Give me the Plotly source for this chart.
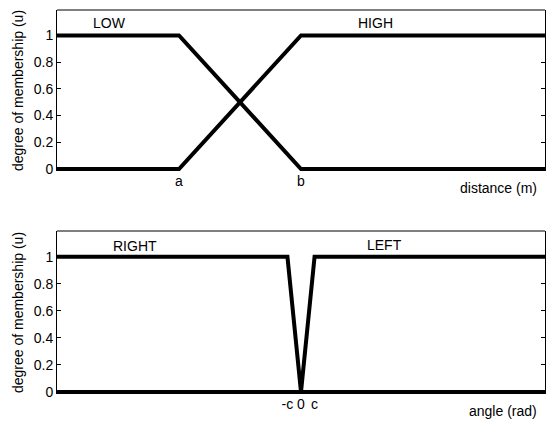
import math

import plotly.graph_objects as go
from plotly.subplots import make_subplots

# distance memberships (top panel)
dist_a = 1.0
dist_b = 2.0
dist_max = 4.0
dist_x = [0.0, dist_a, dist_b, dist_max]
low_u = [1, 1, 0, 0]
high_u = [0, 0, 1, 1]
dist_ticks = [dist_a, dist_b]
dist_ticktext = ["a", "b"]

# angle memberships (bottom panel)
ang_c = math.pi / 18
ang_max = math.pi
right_x = [-ang_max, -ang_c, 0.0, ang_max]
right_u = [1, 1, 0, 0]
left_x = [-ang_max, 0.0, ang_c, ang_max]
left_u = [0, 0, 1, 1]
ang_ticks = [-ang_c, 0.0, ang_c]
ang_ticktext = ["-c", "0", "c"]

u_ticks = [0, 0.2, 0.4, 0.6, 0.8, 1]
u_ticktext = ["0", "0.2", "0.4", "0.6", "0.8", "1"]

FONT = "Liberation Sans, Arial, sans-serif"
FS = 14
W, H = 546, 421

fig = make_subplots(rows=2, cols=1)

line_style = {"color": "black", "width": 4}
fig.add_trace(go.Scatter(x=dist_x, y=low_u, mode="lines", line=line_style), row=1, col=1)
fig.add_trace(go.Scatter(x=dist_x, y=high_u, mode="lines", line=line_style), row=1, col=1)
fig.add_trace(go.Scatter(x=right_x, y=right_u, mode="lines", line=line_style), row=2, col=1)
fig.add_trace(go.Scatter(x=left_x, y=left_u, mode="lines", line=line_style), row=2, col=1)

tick_font = {"family": FONT, "size": FS, "color": "black"}

x_dom = [57 / W, 545 / W]
x_common = dict(domain=x_dom, showgrid=False, zeroline=False, showline=False,
                ticks="", tickfont=tick_font, automargin=False)
fig.update_xaxes(range=[0, dist_max], tickvals=dist_ticks, ticktext=dist_ticktext,
                 row=1, col=1, **x_common)
fig.update_xaxes(range=[-ang_max, ang_max], tickvals=ang_ticks, ticktext=ang_ticktext,
                 row=2, col=1, **x_common)

y_common = dict(
    range=[-0.015, 1.19],
    tickvals=u_ticks,
    ticktext=u_ticktext,
    showgrid=False,
    zeroline=False,
    showline=True,
    linecolor="black",
    linewidth=1,
    mirror="ticks",
    ticks="inside",
    ticklen=4,
    tickcolor="black",
    tickfont=tick_font,
    automargin=False,
    title={"text": "degree of membership (u)", "font": {"family": FONT, "size": FS}, "standoff": 6},
)
fig.update_yaxes(domain=[1 - 171 / H, 1 - 10 / H], row=1, col=1, **y_common)
fig.update_yaxes(domain=[1 - 394 / H, 1 - 231 / H], row=2, col=1, **y_common)

# top border of each box
for xr, yr in [("x domain", "y domain"), ("x2 domain", "y2 domain")]:
    fig.add_shape(type="line", xref=xr, yref=yr, x0=0, x1=1, y0=1, y1=1,
                  line={"color": "black", "width": 1})

# set labels
labels = [
    ("LOW", 0.43, 1.09, "x", "y"),
    ("HIGH", 2.61, 1.09, "x", "y"),
    ("RIGHT", -2.14, 1.08, "x2", "y2"),
    ("LEFT", 1.08, 1.09, "x2", "y2"),
]
for text, lx, ly, xr, yr in labels:
    fig.add_annotation(text=text, x=lx, y=ly, xref=xr, yref=yr, showarrow=False, font=tick_font)

# axis names at lower right
for text, xr, yr in [("distance (m)", "x domain", "y domain"), ("angle (rad)", "x2 domain", "y2 domain")]:
    fig.add_annotation(
        text=text, x=0.988, y=0, xref=xr, yref=yr, xanchor="right", yanchor="middle",
        yshift=-17, showarrow=False, font=tick_font,
    )

fig.update_layout(
    width=W,
    height=H,
    margin={"l": 0, "r": 0, "t": 0, "b": 0},
    plot_bgcolor="white",
    paper_bgcolor="white",
    showlegend=False,
    font={"family": FONT, "size": FS, "color": "black"},
)

# pin the plot to the top-left corner so the page is exactly the figure size
pin_js = (
    "document.body.style.margin='0';"
    "var d=document.getElementById('{plot_id}');"
    "d.style.position='fixed';d.style.left='0';d.style.top='0';"
)
fig.write_html("out.html", config={"displayModeBar": False}, post_script=pin_js)
